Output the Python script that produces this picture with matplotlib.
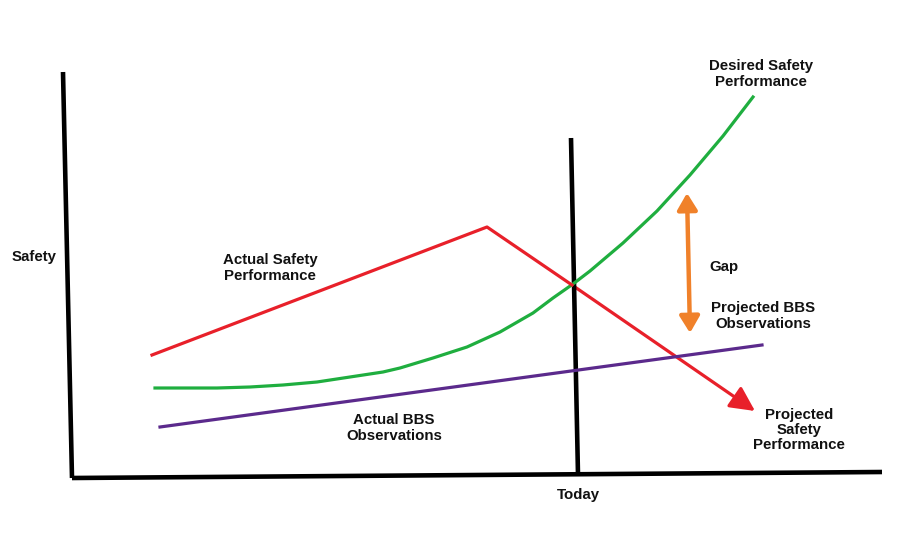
import matplotlib
matplotlib.use("Agg")
import matplotlib.pyplot as plt
from matplotlib.patches import FancyArrowPatch

# coordinates (pixel space, y grows downward)
y_axis_x = [63, 72]
y_axis_y = [72, 478]
x_axis_x = [72, 882]
x_axis_y = [478, 472]
today_x = [571, 578]
today_y = [138, 475]

actual_x = [152, 487, 572]
actual_y = [355, 227, 285]
projected_x = [572, 755]
projected_y = [285, 411]

desired_x = [155, 190, 217, 250, 283, 317, 350, 383, 400, 433, 467, 500,
             533, 553, 573, 590, 623, 657, 690, 723, 753]
desired_y = [388, 388, 388, 387, 385, 382, 377, 372, 368, 358, 347, 332,
             313, 298, 284, 271, 243, 211, 175, 136, 97]

bbs_x = [160, 762]
bbs_y = [427, 345]

gap_x = [687, 690]
gap_y = [193, 333]

labels = [
    ("Safety", 12, 257, "left"),
    ("Actual Safety\nPerformance", 270, 268, "center"),
    ("Desired Safety\nPerformance", 761, 74, "center"),
    ("Gap", 709, 267, "left"),
    ("Projected BBS\nObservations", 763, 316, "center"),
    ("Actual BBS\nObservations", 394, 428, "center"),
    ("Projected\nSafety\nPerformance", 799, 430, "center"),
    ("Today", 578, 495, "center"),
]

plt.rcParams["font.family"] = ["Liberation Sans", "DejaVu Sans"]

fig = plt.figure(figsize=(9, 5.5), dpi=100)
ax = fig.add_axes([0, 0, 1, 1])
ax.set_xlim(0, 900)
ax.set_ylim(550, 0)
ax.axis("off")

# axes and today line
ax.plot(y_axis_x, y_axis_y, color="black", lw=3.3, solid_capstyle="butt")
ax.plot(x_axis_x, x_axis_y, color="black", lw=3.3, solid_capstyle="butt")
ax.plot(today_x, today_y, color="black", lw=3.3, solid_capstyle="butt")

# curves
ax.plot(desired_x, desired_y, color="#1fae3f", lw=2.3, solid_joinstyle="round")
ax.plot(bbs_x, bbs_y, color="#5b2a8c", lw=2.3)
ax.plot(actual_x, actual_y, color="#e8202a", lw=2.3)
ax.add_patch(FancyArrowPatch((projected_x[0], projected_y[0]), (projected_x[1], projected_y[1]),
                             arrowstyle="-|>,head_length=15,head_width=7.5",
                             color="#e8202a", lw=2.3, shrinkA=0, shrinkB=0))

# gap arrow
ax.add_patch(FancyArrowPatch((gap_x[0], gap_y[0]), (gap_x[1], gap_y[1]),
                             arrowstyle="<|-|>,head_length=10,head_width=6",
                             color="#f0812a", lw=3.2, shrinkA=0, shrinkB=0))

for txt, x, y, ha in labels:
    ax.text(x, y, txt, ha=ha, va="center", fontsize=10.8, fontweight="bold",
            linespacing=1.1, color="#111111")

fig.savefig("out.png", dpi=100)
